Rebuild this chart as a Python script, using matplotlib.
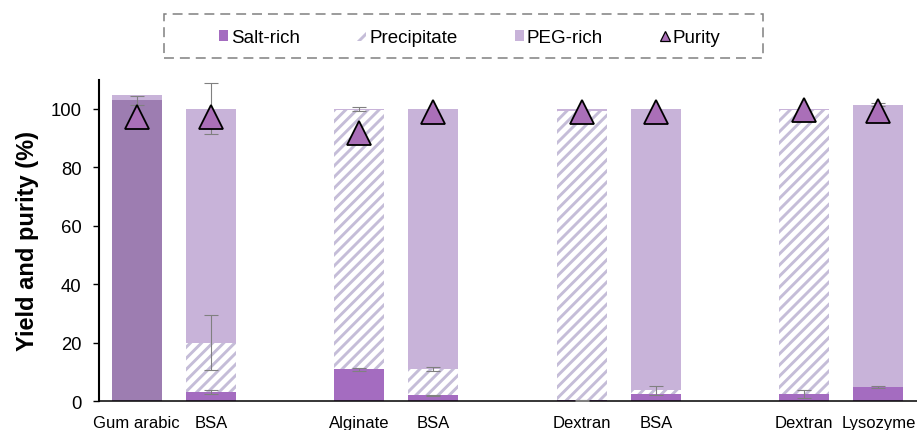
import matplotlib
matplotlib.use("Agg")
import matplotlib.pyplot as plt
from matplotlib.patches import Patch, Rectangle
from matplotlib.lines import Line2D
import numpy as np

# Partition of each biomolecule between phases (%), plus purity (%)
samples = ["Gum arabic", "BSA", "Alginate", "BSA", "Dextran", "BSA", "Dextran", "Lysozyme"]
salt_rich = [103.0, 3.1, 10.9, 2.0, 0.4, 2.4, 2.4, 4.8]
precipitate = [0.0, 17.0, 88.8, 8.9, 99.0, 1.3, 97.3, 0.0]
peg_rich = [1.6, 80.0, 0.3, 89.0, 0.6, 96.3, 0.3, 96.6]
purity = [97.3, 97.3, 91.7, 98.8, 99.0, 99.0, 99.8, 99.3]

# Standard deviations, drawn at the top of each stacked segment
salt_rich_err = [1.5, 0.6, 0.5, 0.3, 0.2, 0.0, 1.3, 0.3]
precipitate_err = [0.0, 9.4, 0.0, 0.7, 0.0, 1.5, 0.0, 0.0]
peg_rich_err = [0.0, 8.7, 0.6, 0.0, 0.0, 0.0, 0.0, 0.5]

SALT = "#a46cc0"
GUM = "#9d7db1"
PEG = "#c8b3d9"
HATCH = "#c5bdd8"
TRI = "#aa6fb8"
ERR = "#808080"

plt.rcParams["font.family"] = ["Liberation Sans", "DejaVu Sans"]
plt.rcParams["hatch.linewidth"] = 2.1

fig = plt.figure(figsize=(9.17, 4.31), dpi=100)
ax = fig.add_axes([99 / 917, 1 - 402.3 / 431, 1 - 99 / 917, (402.3 - 80.7) / 431])

# two bars per system, with a gap between systems
x = np.array([(i // 2) * 3 + (i % 2) for i in range(len(samples))], dtype=float)
w = 0.674

salt = np.array(salt_rich)
prec = np.array(precipitate)
peg = np.array(peg_rich)

salt_colors = [GUM if s == "Gum arabic" else SALT for s in samples]
ax.bar(x, salt, width=w, color=salt_colors, linewidth=0, zorder=2)
ax.bar(x, prec, width=w, bottom=salt, facecolor="white", edgecolor=HATCH,
       hatch="///", linewidth=0, zorder=2)
ax.bar(x, peg, width=w, bottom=salt + prec, color=PEG, linewidth=0, zorder=2)

tops = [salt, salt + prec, salt + prec + peg]
errs = [salt_rich_err, precipitate_err, peg_rich_err]
for top, err in zip(tops, errs):
    err = np.array(err)
    m = err > 0
    ax.errorbar(x[m], top[m], yerr=err[m], fmt="none", ecolor=ERR,
                elinewidth=0.8, capsize=5, capthick=0.8, zorder=3)

ax.plot(x, purity, linestyle="none", marker="^", markersize=17.5,
        markerfacecolor=TRI, markeredgecolor="black", markeredgewidth=1.3,
        zorder=4)

ax.set_xlim(-0.508, 10.52)
ax.set_ylim(0, 110)
ax.set_yticks([0, 20, 40, 60, 80, 100])
ax.set_xticks(x)
ax.set_xticklabels(samples, fontsize=12)
ax.tick_params(axis="x", length=0, pad=10)
ax.tick_params(axis="y", length=4.5, width=1.0, labelsize=13.3, pad=8)
for side in ("top", "right"):
    ax.spines[side].set_visible(False)
ax.spines["left"].set_linewidth(1.5)
ax.spines["bottom"].set_linewidth(1.1)
ax.set_ylabel("Yield and purity (%)", fontsize=17, fontweight="bold")
ax.yaxis.set_label_coords(-0.0734, 0.5)

handles = [
    Patch(facecolor=SALT, linewidth=0),
    Patch(facecolor="white", edgecolor=HATCH, hatch="//", linewidth=0),
    Patch(facecolor=PEG, linewidth=0),
    Line2D([], [], linestyle="none", marker="^", markersize=6.5,
           markerfacecolor=TRI, markeredgecolor="black", markeredgewidth=0.9),
]
labels = ["Salt-rich", "Precipitate", "PEG-rich", "Purity"]
fig.legend(handles, labels, loc="center", bbox_to_anchor=(0.512, 0.910),
           ncol=4, frameon=False, fontsize=13.5, handlelength=0.5,
           handleheight=0.5, handletextpad=0.15, columnspacing=3.05)

fig.patches.append(Rectangle((163.5 / 917, 1 - 58.5 / 431), 599 / 917, 44 / 431,
                             transform=fig.transFigure, fill=False,
                             edgecolor="#808080", linewidth=1.1,
                             linestyle=(0, (6.5, 3.9))))

fig.savefig("out.png", dpi=100)
